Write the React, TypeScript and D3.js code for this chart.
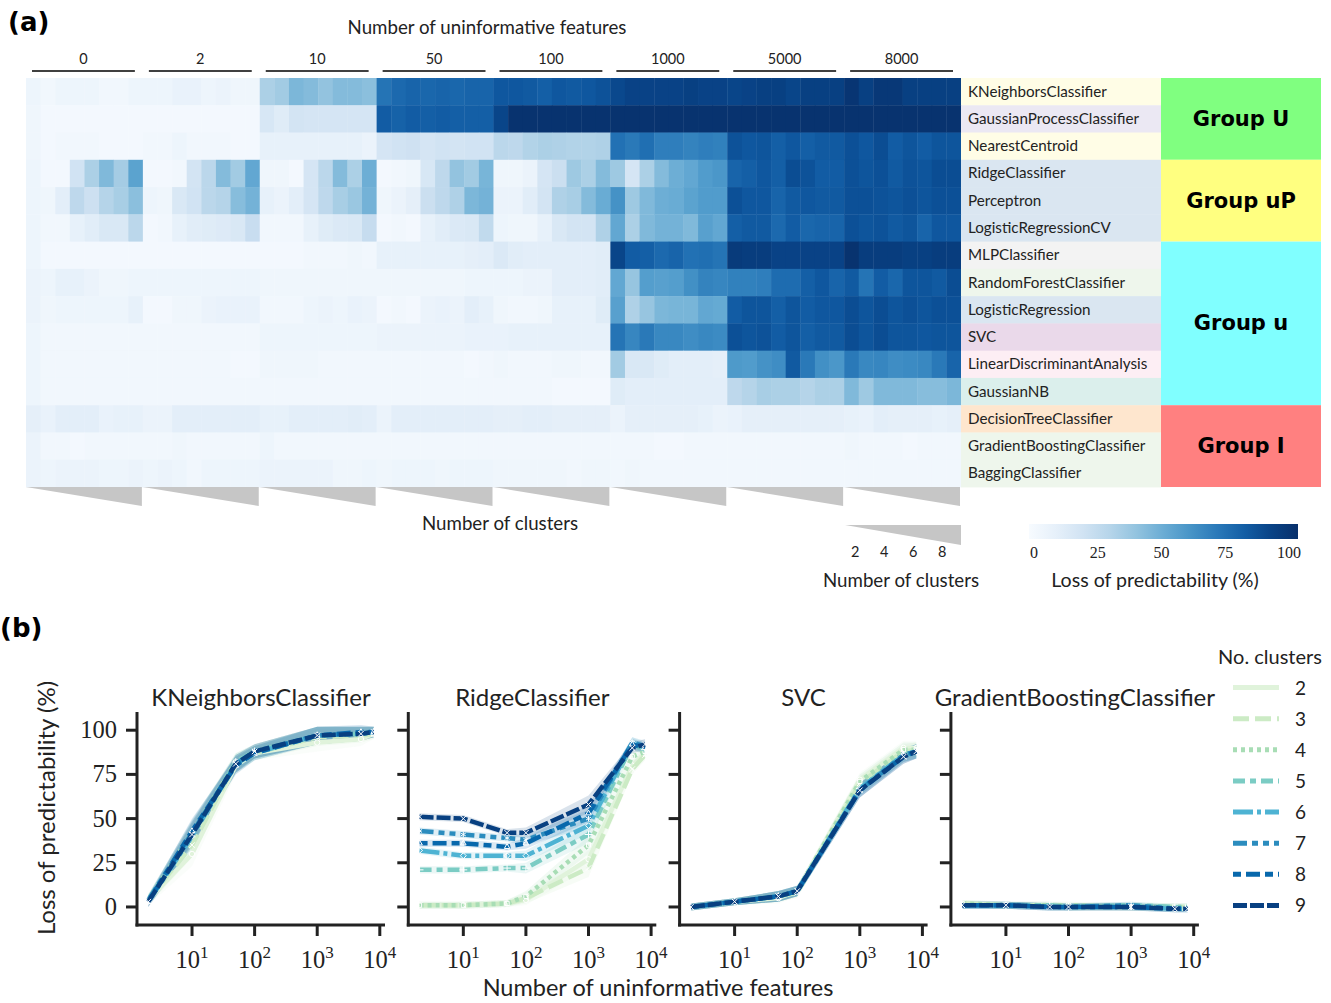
import React, { useEffect, useRef } from "react";
import * as d3 from "d3";

// ---- panel (a): heatmap data ----
const featureGroups = ["0", "2", "10", "50", "100", "1000", "5000", "8000"];
const clusterCounts = [2, 3, 4, 5, 6, 7, 8, 9];

const classifierNames = [
  "KNeighborsClassifier",
  "GaussianProcessClassifier",
  "NearestCentroid",
  "RidgeClassifier",
  "Perceptron",
  "LogisticRegressionCV",
  "MLPClassifier",
  "RandomForestClassifier",
  "LogisticRegression",
  "SVC",
  "LinearDiscriminantAnalysis",
  "GaussianNB",
  "DecisionTreeClassifier",
  "GradientBoostingClassifier",
  "BaggingClassifier",
];
const classifierFamily = [
  "Group U", "Group U", "Group U",
  "Group uP", "Group uP", "Group uP",
  "Group u", "Group u", "Group u", "Group u", "Group u", "Group u",
  "Group I", "Group I", "Group I",
];

// loss of predictability (%), 8 feature groups x 8 cluster counts per row
const lossKNeighbors = [5,3,5,5,5,3,3,5, 5,5,7,7,5,6,4,4, 33,36,46,44,40,44,44,42, 74,78,80,79,80,79,80,80, 85,85,84,82,85,84,85,87, 91,93,93,93,93,94,93,93, 92,93,94,94,92,94,94,94, 98,94,97,97,94,94,94,94];
const lossGaussianProcess = [4,2,2,2,2,2,2,2, 2,2,2,2,2,2,2,2, 16,12,18,17,17,17,17,17, 83,81,83,82,83,82,82,82, 92,99,99,99,99,99,99,99, 99,99,99,99,99,99,99,99, 99,99,99,99,99,99,99,99, 99,99,99,99,99,99,99,99];
const lossNearestCentroid = [4,2,3,3,3,2,2,2, 3,3,5,3,3,3,2,2, 8,8,8,8,8,8,8,6, 17,19,20,17,19,18,19,19, 28,27,31,33,32,31,31,32, 75,72,76,70,70,68,70,69, 87,85,86,82,85,82,84,84, 88,85,89,83,86,83,86,86];
const lossRidge = [5,2,2,19,33,45,35,55, 2,2,3,18,28,44,36,53, 4,4,2,17,28,44,33,50, 2,3,4,16,27,40,36,47, 4,4,6,17,22,37,33,44, 37,17,33,44,50,53,58,60, 80,82,85,82,89,87,83,83, 88,86,88,84,87,86,89,89];
const lossPerceptron = [5,4,10,27,21,30,34,42, 5,4,15,19,28,30,43,48, 8,6,10,17,27,34,38,48, 4,6,9,22,27,32,46,48, 6,6,11,18,32,34,44,51, 62,37,45,50,51,55,58,58, 88,85,85,80,84,85,84,84, 88,88,87,86,88,86,88,88];
const lossLogRegCV = [5,3,3,8,11,15,15,28, 2,3,8,11,12,13,15,23, 3,3,3,8,12,14,15,24, 2,3,2,8,11,14,15,26, 5,4,4,8,15,18,18,32, 53,33,45,48,48,45,56,53, 82,84,84,78,83,79,80,80, 88,86,87,84,86,80,85,85];
const lossMLP = [5,2,2,2,2,2,2,2, 2,2,2,2,2,2,2,2, 2,2,2,3,3,3,4,3, 8,8,8,8,8,8,9,10, 14,11,10,10,10,10,10,11, 92,83,82,78,80,75,76,74, 96,95,95,93,93,93,93,93, 99,95,95,95,94,94,95,95];
const lossRandomForest = [6,5,8,8,6,4,4,5, 5,5,5,5,5,5,5,5, 4,4,4,4,4,4,4,4, 4,4,4,4,4,4,5,5, 5,5,6,6,10,10,10,11, 53,39,57,56,57,63,68,67, 69,69,70,77,77,82,85,80, 84,74,83,79,86,86,84,89];
const lossLogReg = [6,4,5,5,5,5,5,8, 2,2,4,4,6,7,7,7, 3,3,3,5,6,5,7,6, 2,3,2,6,7,6,10,8, 4,3,3,4,8,8,8,12, 56,32,39,46,47,47,53,52, 83,86,86,82,86,83,85,85, 89,86,89,86,88,86,88,88];
const lossSVC = [5,3,3,3,3,3,3,3, 3,3,3,3,3,3,3,3, 5,5,5,5,5,5,5,5, 6,6,6,6,6,6,7,7, 7,8,8,8,8,8,8,8, 74,67,72,66,66,64,66,65, 88,86,87,83,86,82,84,84, 89,86,89,86,86,85,86,86];
const lossLDA = [5,3,3,3,3,3,3,3, 3,3,3,3,3,3,2,2, 4,4,4,4,3,3,3,3, 3,3,3,3,3,3,2,3, 4,3,3,3,4,4,3,3, 36,15,15,12,10,10,10,9, 59,58,62,64,84,72,63,60, 72,66,67,64,65,66,72,80];
const lossGaussianNB = [5,3,3,3,3,3,3,3, 3,3,3,3,3,3,3,3, 3,3,3,3,3,3,3,3, 3,3,3,3,3,3,3,3, 3,3,3,3,2,2,2,2, 12,10,10,10,10,10,10,10, 27,30,34,33,33,30,33,33, 45,37,45,45,45,43,43,46];
const lossDecisionTree = [9,7,10,10,10,7,8,8, 6,6,10,10,10,10,10,10, 8,8,10,10,10,10,11,10, 6,10,10,10,10,10,10,10, 9,9,10,10,9,9,9,9, 6,9,9,9,9,9,8,6, 7,9,9,9,9,9,9,9, 8,7,10,9,9,9,8,9];
const lossGradBoost = [6,3,3,2,3,3,3,3, 3,3,4,3,3,3,3,3, 5,3,3,3,3,3,3,3, 3,3,3,3,3,3,3,3, 3,3,3,3,3,3,3,3, 3,3,3,2,2,3,3,3, 3,3,3,3,3,3,3,3, 4,3,3,3,2,3,3,3];
const lossBagging = [6,5,6,6,6,5,5,6, 5,6,5,3,5,5,5,5, 6,6,6,6,6,4,4,5, 4,5,5,5,4,5,5,5, 4,4,4,4,4,3,4,4, 3,4,3,3,3,3,3,3, 3,3,3,3,3,3,3,3, 3,3,3,3,3,3,3,3];

const heatRows = [
  lossKNeighbors, lossGaussianProcess, lossNearestCentroid, lossRidge, lossPerceptron,
  lossLogRegCV, lossMLP, lossRandomForest, lossLogReg, lossSVC, lossLDA, lossGaussianNB,
  lossDecisionTree, lossGradBoost, lossBagging,
];

// ---- panel (b): line data, x = number of uninformative features ----
const lineFeatures = [2, 10, 50, 100, 1000, 5000, 8000];
const panelTitles = ["KNeighborsClassifier", "RidgeClassifier", "SVC", "GradientBoostingClassifier"];

const knnLoss = [
  [4, 30, 80, 87, 93, 95, 98],
  [4, 35, 81, 87, 96, 97, 98],
  [4, 42, 82, 88, 97, 98, 99],
  [4, 41, 82, 88, 97, 98, 99],
  [3, 40, 81, 87, 97, 98, 99],
  [4, 42, 81, 88, 97, 98, 99],
  [3, 43, 80, 87, 97, 99, 99],
  [3, 41, 81, 88, 97, 98, 99],
];
const knnSpread = [3, 7, 5, 4, 5, 4, 3];

const ridgeLoss = [
  [1, 1, 2, 4, 27, 80, 87],
  [1, 1, 2, 5, 22, 78, 86],
  [1, 1, 2, 6, 35, 85, 88],
  [21, 21, 22, 22, 41, 92, 89],
  [32, 29, 29, 29, 46, 93, 90],
  [43, 41, 39, 38, 50, 93, 91],
  [36, 36, 34, 36, 53, 92, 90],
  [51, 50, 42, 42, 58, 90, 92],
];
const ridgeSpread = [2, 2, 2, 3, 5, 3, 3];

const svcLoss = [
  [0, 3, 5, 9, 72, 90, 90],
  [0, 3, 6, 8, 70, 88, 89],
  [0, 3, 6, 9, 71, 89, 89],
  [0, 3, 6, 9, 67, 86, 88],
  [0, 3, 6, 9, 67, 86, 88],
  [0, 3, 6, 9, 66, 86, 88],
  [0, 3, 6, 9, 66, 85, 88],
  [0, 3, 6, 9, 66, 85, 88],
];
const svcSpread = [2, 2, 3, 3, 4, 4, 4];

const gbLoss = [
  [2, 1, 0, 0, 0, -1, -1],
  [2, 1, 1, 0, 0, 0, 0],
  [2, 1, 1, 1, 0, 0, 0],
  [1, 1, 1, 0, 1, 0, 0],
  [1, 1, 0, 0, 0, -1, -1],
  [1, 1, 0, 0, 1, -1, -1],
  [1, 1, 0, 0, 0, -1, -1],
  [1, 1, 0, 0, 0, -1, -1],
];
const gbSpread = [2, 2, 2, 2, 2, 2, 2];

const panelLoss = [knnLoss, ridgeLoss, svcLoss, gbLoss];
const panelSpread = [knnSpread, ridgeSpread, svcSpread, gbSpread];

// ---- styling ----
const SANS = "Lato, 'Open Sans', sans-serif";
const SERIF = "'Liberation Serif', 'DejaVu Serif', serif";
const BOLD = "'DejaVu Sans', sans-serif";

const labelShades = [
  "#fffde6", "#ebe8f3", "#fffde6", "#dae6f1", "#dae6f1", "#dae6f1", "#f3f3f3",
  "#eef6ec", "#dae6f1", "#ead9ea", "#fdeef4", "#dbefec", "#fee6ce", "#eef6ec", "#eef6ec",
];
const familyColors: Record<string, string> = {
  "Group U": "#80ff80",
  "Group uP": "#ffff80",
  "Group u": "#80ffff",
  "Group I": "#ff8080",
};
const clusterColors = d3.schemeGnBu[9].slice(1);
const clusterDashes = ["", "16,6", "4,4", "12,5,6,5", "20,4,4,4", "14,5,6,5,6,5", "8,5,14,5", "14,3"];
const clusterSymbols = [
  d3.symbolCircle, d3.symbolTimes, d3.symbolSquare2, d3.symbolPlus,
  d3.symbolDiamond2, d3.symbolAsterisk, d3.symbolTriangle2, d3.symbolTimes,
];

export default function App() {
  const ref = useRef<SVGSVGElement>(null);

  useEffect(() => {
    const svg = d3.select(ref.current);
    svg.selectAll("*").remove();
    drawHeatmap(svg);
    drawLines(svg);
  }, []);

  return (
    <svg
      ref={ref}
      width={1331}
      height={1003}
      style={{ position: "absolute", left: 0, top: 0, background: "#fff" }}
    />
  );
}

function drawHeatmap(svg: any) {
  const nCols = featureGroups.length * clusterCounts.length;
  const x = d3.scaleBand<number>().domain(d3.range(nCols)).range([26, 961]);
  const gx = d3.scaleBand<string>().domain(featureGroups).range([26, 961]);
  const y = d3.scaleBand<string>().domain(classifierNames).range([78, 487]);
  const color = d3.scaleSequential(d3.interpolateBlues).domain([0, 100]);

  svg.append("text")
    .attr("x", 8).attr("y", 31)
    .attr("font-family", BOLD).attr("font-weight", "bold").attr("font-size", 26)
    .text("(a)");

  svg.append("text")
    .attr("x", 487).attr("y", 34).attr("text-anchor", "middle")
    .attr("font-family", SANS).attr("font-size", 18.7).attr("fill", "#222")
    .text("Number of uninformative features");

  const top = svg.append("g");
  featureGroups.forEach((g) => {
    const x0 = gx(g)!;
    top.append("text")
      .attr("x", x0 + gx.bandwidth() / 2 - 1).attr("y", 64).attr("text-anchor", "middle")
      .attr("font-family", SANS).attr("font-size", 14.5).attr("fill", "#222")
      .text(g);
    top.append("line")
      .attr("x1", x0 + 6).attr("x2", x0 + gx.bandwidth() - 8)
      .attr("y1", 71).attr("y2", 71)
      .attr("stroke", "#000").attr("stroke-width", 1.5);
  });

  const cells = heatRows.flatMap((row, r) => row.map((v, c) => ({ r, c, v })));
  svg.append("g")
    .selectAll("rect")
    .data(cells)
    .enter()
    .append("rect")
    .attr("x", (d: any) => x(d.c)!)
    .attr("y", (d: any) => y(classifierNames[d.r])!)
    .attr("width", x.bandwidth() + 0.4)
    .attr("height", y.bandwidth() + 0.4)
    .attr("fill", (d: any) => color(d.v));

  // classifier labels
  const lab = svg.append("g");
  classifierNames.forEach((name, i) => {
    lab.append("rect")
      .attr("x", 961).attr("y", y(name)!)
      .attr("width", 200).attr("height", y.bandwidth() + 0.4)
      .attr("fill", labelShades[i]);
    lab.append("text")
      .attr("x", 968).attr("y", y(name)! + y.bandwidth() / 2 + 5)
      .attr("font-family", SANS).attr("font-size", 15.2).attr("fill", "#222")
      .text(name);
  });

  // family boxes
  const spans: { name: string; first: number; last: number }[] = [];
  classifierFamily.forEach((f, i) => {
    const s = spans[spans.length - 1];
    if (s && s.name === f) s.last = i;
    else spans.push({ name: f, first: i, last: i });
  });
  spans.forEach((s) => {
    const y0 = y(classifierNames[s.first])!;
    const y1 = y(classifierNames[s.last])! + y.bandwidth();
    svg.append("rect")
      .attr("x", 1161).attr("y", y0).attr("width", 160).attr("height", y1 - y0)
      .attr("fill", familyColors[s.name]);
    svg.append("text")
      .attr("x", 1241).attr("y", (y0 + y1) / 2 + 7).attr("text-anchor", "middle")
      .attr("font-family", BOLD).attr("font-weight", "bold").attr("font-size", 21)
      .text(s.name);
  });

  // cluster wedges under each feature group
  featureGroups.forEach((g) => {
    const x0 = gx(g)!;
    const x1 = x0 + gx.bandwidth() - 1;
    svg.append("path")
      .attr("d", `M${x0},487 L${x1},487 L${x1},506 Z`)
      .attr("fill", "#c6c6c6");
  });
  svg.append("text")
    .attr("x", 500).attr("y", 530).attr("text-anchor", "middle")
    .attr("font-family", SANS).attr("font-size", 18.7).attr("fill", "#222")
    .text("Number of clusters");

  // cluster key
  const kx = d3.scaleBand<number>().domain(clusterCounts).range([848, 964]);
  svg.append("path").attr("d", "M845,525 L961,525 L961,545 Z").attr("fill", "#c6c6c6");
  clusterCounts.filter((k) => k % 2 === 0).forEach((k) => {
    svg.append("text")
      .attr("x", kx(k)! + kx.bandwidth() / 2).attr("y", 557).attr("text-anchor", "middle")
      .attr("font-family", SANS).attr("font-size", 14.5).attr("fill", "#222")
      .text(k);
  });
  svg.append("text")
    .attr("x", 901).attr("y", 587).attr("text-anchor", "middle")
    .attr("font-family", SANS).attr("font-size", 18.7).attr("fill", "#222")
    .text("Number of clusters");

  // colorbar
  const cb = d3.scaleLinear().domain([-2, 103.5]).range([1029, 1298]);
  const defs = svg.append("defs");
  const grad = defs.append("linearGradient").attr("id", "cbGrad");
  d3.range(0, 1.0001, 0.1).forEach((t) => {
    grad.append("stop")
      .attr("offset", `${t * 100}%`)
      .attr("stop-color", color(cb.invert(1029 + t * 269)));
  });
  svg.append("rect")
    .attr("x", 1029).attr("y", 524).attr("width", 269).attr("height", 15)
    .attr("fill", "url(#cbGrad)");
  [0, 25, 50, 75, 100].forEach((t) => {
    svg.append("text")
      .attr("x", cb(t)).attr("y", 558).attr("text-anchor", "middle")
      .attr("font-family", SERIF).attr("font-size", 16).attr("fill", "#222")
      .text(t);
  });
  svg.append("text")
    .attr("x", 1155).attr("y", 587).attr("text-anchor", "middle")
    .attr("font-family", SANS).attr("font-size", 19.6).attr("fill", "#222")
    .text("Loss of predictability (%)");
}

function drawLines(svg: any) {
  svg.append("text")
    .attr("x", 0).attr("y", 637)
    .attr("font-family", BOLD).attr("font-weight", "bold").attr("font-size", 26)
    .text("(b)");

  const px = d3.scaleBand<string>().domain(panelTitles).range([137, 137 + 4 * 271.3]);
  const y = d3.scaleLinear().domain([-10.2, 110.3]).range([925, 712]);
  const pw = 248;

  panelTitles.forEach((title, p) => {
    const x0 = px(title)!;
    const x = d3.scaleLog().domain([Math.pow(10, 0.121), Math.pow(10, 4.083)]).range([x0, x0 + pw]);
    const g = svg.append("g");

    // bands
    panelLoss[p].forEach((series, k) => {
      const area = d3.area<number>()
        .x((_, i) => x(lineFeatures[i]))
        .y0((v, i) => y(v - panelSpread[p][i]))
        .y1((v, i) => y(v + panelSpread[p][i]));
      g.append("path")
        .attr("d", area(series))
        .attr("fill", clusterColors[k])
        .attr("fill-opacity", 0.15);
    });

    // lines
    panelLoss[p].forEach((series, k) => {
      const line = d3.line<number>()
        .x((_, i) => x(lineFeatures[i]))
        .y((v) => y(v));
      g.append("path")
        .attr("d", line(series))
        .attr("fill", "none")
        .attr("stroke", clusterColors[k])
        .attr("stroke-width", 4.5)
        .attr("stroke-dasharray", clusterDashes[k]);
      const sym = d3.symbol().type(clusterSymbols[k]).size(22);
      series.forEach((v, i) => {
        g.append("path")
          .attr("d", sym())
          .attr("transform", `translate(${x(lineFeatures[i])},${y(v)})`)
          .attr("fill", "none")
          .attr("stroke", "#fff")
          .attr("stroke-width", 1);
      });
    });

    // axes
    g.append("line")
      .attr("x1", x0).attr("x2", x0).attr("y1", 712).attr("y2", 926.5)
      .attr("stroke", "#222").attr("stroke-width", 3);
    g.append("line")
      .attr("x1", x0 - 1.5).attr("x2", x0 + pw).attr("y1", 925).attr("y2", 925)
      .attr("stroke", "#222").attr("stroke-width", 3);

    [0, 25, 50, 75, 100].forEach((t) => {
      g.append("line")
        .attr("x1", x0 - 11).attr("x2", x0).attr("y1", y(t)).attr("y2", y(t))
        .attr("stroke", "#222").attr("stroke-width", 3);
      if (p === 0) {
        g.append("text")
          .attr("x", x0 - 20).attr("y", y(t) + 8).attr("text-anchor", "end")
          .attr("font-family", SERIF).attr("font-size", 24.5).attr("fill", "#222")
          .text(t);
      }
    });

    [10, 100, 1000, 10000].forEach((t) => {
      g.append("line")
        .attr("x1", x(t)).attr("x2", x(t)).attr("y1", 925).attr("y2", 936)
        .attr("stroke", "#222").attr("stroke-width", 3);
      const lbl = g.append("text")
        .attr("x", x(t)).attr("y", 968).attr("text-anchor", "middle")
        .attr("font-family", SERIF).attr("font-size", 24.5).attr("fill", "#222");
      lbl.append("tspan").text("10");
      lbl.append("tspan").attr("dy", -10).attr("font-size", 17).text(Math.round(Math.log10(t)));
    });

    g.append("text")
      .attr("x", x0 + pw / 2).attr("y", 706).attr("text-anchor", "middle")
      .attr("font-family", SANS).attr("font-size", 24).attr("fill", "#222")
      .text(title);
  });

  svg.append("text")
    .attr("transform", "translate(55,808) rotate(-90)")
    .attr("text-anchor", "middle")
    .attr("font-family", SANS).attr("font-size", 24).attr("fill", "#222")
    .text("Loss of predictability (%)");

  svg.append("text")
    .attr("x", 658).attr("y", 996).attr("text-anchor", "middle")
    .attr("font-family", SANS).attr("font-size", 23.5).attr("fill", "#222")
    .text("Number of uninformative features");

  // legend
  const ly = d3.scaleBand<number>().domain(clusterCounts).range([672, 921]);
  svg.append("text")
    .attr("x", 1270).attr("y", 664).attr("text-anchor", "middle")
    .attr("font-family", SANS).attr("font-size", 20).attr("fill", "#222")
    .text("No. clusters");
  clusterCounts.forEach((k, i) => {
    const cy = ly(k)! + ly.bandwidth() / 2;
    svg.append("line")
      .attr("x1", 1233).attr("x2", 1279).attr("y1", cy).attr("y2", cy)
      .attr("stroke", clusterColors[i]).attr("stroke-width", 5)
      .attr("stroke-dasharray", clusterDashes[i]);
    svg.append("text")
      .attr("x", 1295).attr("y", cy + 7)
      .attr("font-family", SANS).attr("font-size", 19).attr("fill", "#222")
      .text(k);
  });
}
